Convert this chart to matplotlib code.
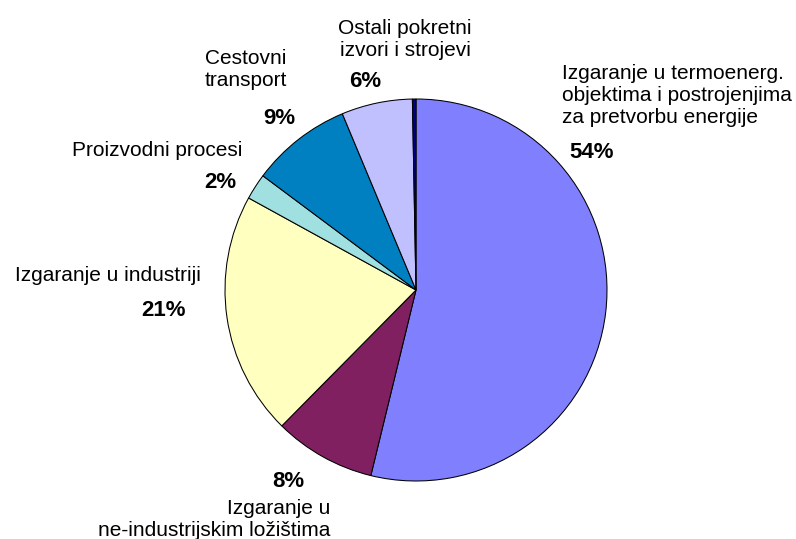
import matplotlib
matplotlib.use("Agg")
import matplotlib.pyplot as plt

# --- DATA ---
categories = [
    "Izgaranje u termoenerg.\nobjektima i postrojenjima\nza pretvorbu energije",
    "Izgaranje u\nne-industrijskim ložištima",
    "Izgaranje u industriji",
    "Proizvodni procesi",
    "Cestovni\ntransport",
    "Ostali pokretni\nizvori i strojevi",
    "",
]
shares = [53.8, 8.6, 20.6, 2.2, 8.5, 6.0, 0.3]
pct_labels = ["54%", "8%", "21%", "2%", "9%", "6%", ""]
colors = ["#8080FF", "#802060", "#FFFFC0", "#A0E0E0", "#0080C0", "#C0C0FF", "#000080"]

# --- LAYOUT (pixel coords, y from top, y = baseline of the last line) ---
W, H = 796, 539
CENTER = (416, 290)
RADIUS = 191
label_pos = [
    (562, 123, "left"),
    (330, 536, "right"),
    (108, 281, "center"),
    (157, 156, "center"),
    (246, 86, "center"),
    (405, 56, "center"),
]
pct_pos = [
    (592, 158),
    (288, 487),
    (163, 316),
    (220, 188),
    (279, 124),
    (365, 87),
]

plt.rcParams["font.family"] = ["Liberation Sans", "DejaVu Sans"]

fig = plt.figure(figsize=(W / 100, H / 100), dpi=100)
ax = fig.add_axes([0, 0, 1, 1])

ax.pie(shares, colors=colors, startangle=90, counterclock=False,
       center=(CENTER[0], H - CENTER[1]), radius=RADIUS,
       wedgeprops=dict(edgecolor="black", linewidth=0.75), frame=True)
ax.set_xlim(0, W)
ax.set_ylim(0, H)
ax.set_aspect("equal")
ax.axis("off")

for i, (x, y, ha) in enumerate(label_pos):
    ax.text(x, H - y, categories[i], ha=ha, va="baseline", fontsize=15,
            linespacing=1.2, multialignment=ha, color="black")
for i, (x, y) in enumerate(pct_pos):
    ax.text(x, H - y, pct_labels[i], ha="center", va="baseline", fontsize=16,
            fontweight="bold", color="black")

fig.savefig("out.png", dpi=100)
